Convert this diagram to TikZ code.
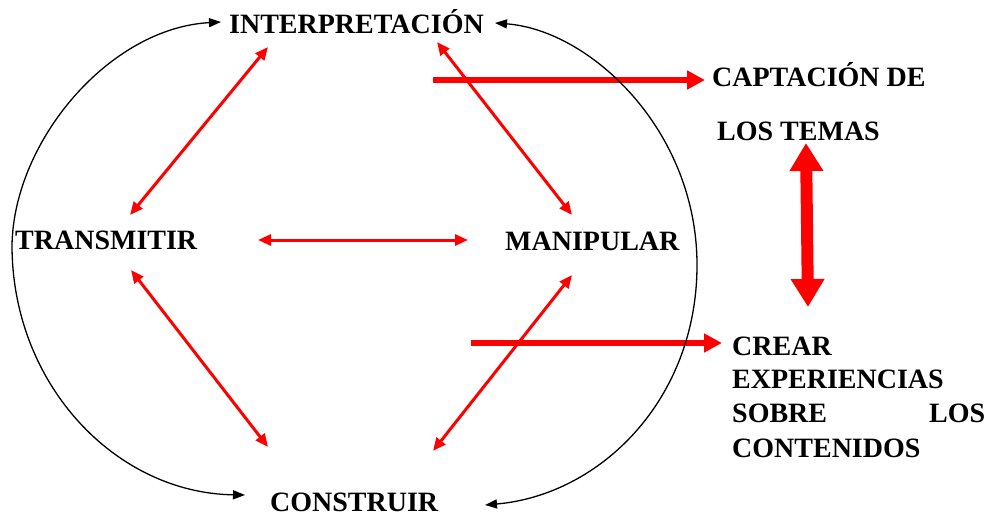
\documentclass[tikz,border=0pt]{standalone}
\usepackage{fontspec}
\setmainfont{Liberation Serif}
\usetikzlibrary{arrows.meta}
\begin{document}
\begin{tikzpicture}[x=1pt,y=-1pt,
  lbl/.style={anchor=base west,inner sep=0pt,font=\fontsize{28}{34}\selectfont\bfseries},
  thinred/.style={draw=red,line width=3pt,{Triangle[length=13pt,width=11pt]}-{Triangle[length=13pt,width=11pt]}},
  thickred/.style={draw=red,line width=5.5pt,-{Triangle[length=18pt,width=18pt]}},
  bigred/.style={draw=red,line width=12pt,{Triangle[length=28pt,width=32pt]}-{Triangle[length=28pt,width=32pt]}},
  blackarc/.style={draw=black,line width=1.3pt,{Triangle[length=12pt,width=9pt]}-{Triangle[length=12pt,width=9pt]}}]
\useasboundingbox (0,0) rectangle (990,516);
% labels
\node[lbl] (interp) at (229,34) {INTERPRETACIÓN};
\node[lbl] (trans) at (15,249) {TRANSMITIR};
\node[lbl] (manip) at (505,250) {MANIPULAR};
\node[lbl] (constr) at (270,511) {CONSTRUIR};
\node[lbl] (capt) at (712,87) {CAPTACIÓN DE};
\node[lbl] (temas) at (717,140) {LOS TEMAS};
\node[lbl] (crear) at (732,355) {CREAR};
\node[lbl] (exper) at (732,388) {EXPERIENCIAS};
\node[lbl] (sobre) at (732,422) {\makebox[253pt][l]{SOBRE\hfill LOS}};
\node[lbl] (conten) at (732,457) {CONTENIDOS};
% connector end points
\coordinate (iT) at (268,47);
\coordinate (tI) at (130,215);
\coordinate (iM) at (437,42);
\coordinate (mI) at (572,215);
\coordinate (tM) at (258,240);
\coordinate (mT) at (468,240);
\coordinate (tC) at (131,270);
\coordinate (cT) at (268,447);
\coordinate (mC) at (572,275);
\coordinate (cM) at (433,451);
\coordinate (iCap) at (433,80);
\coordinate (capI) at (705,80);
\coordinate (mCr) at (471,343);
\coordinate (crM) at (722,343);
\coordinate (temB) at (806,143);
\coordinate (crT) at (808,307);
\coordinate (aIL) at (221,22);
\coordinate (aCL) at (245,495);
\coordinate (aIR) at (495,23);
\coordinate (aCR) at (485,505);
% red connectors
\draw[thinred] (iT) -- (tI);
\draw[thinred] (iM) -- (mI);
\draw[thinred] (tM) -- (mT);
\draw[thinred] (tC) -- (cT);
\draw[thinred] (mC) -- (cM);
\draw[thickred] (iCap) -- (capI);
\draw[thickred] (mCr) -- (crM);
\draw[bigred] (temB) -- (crT);
% black arcs
\draw[blackarc] (aIL) .. controls (110,28) and (14,140) .. (12,245)
  .. controls (12,385) and (116,493) .. (aCL);
\draw[blackarc] (aIR) .. controls (590,30) and (697,130) .. (697,265)
  .. controls (697,400) and (600,495) .. (aCR);
\end{tikzpicture}
\end{document}
